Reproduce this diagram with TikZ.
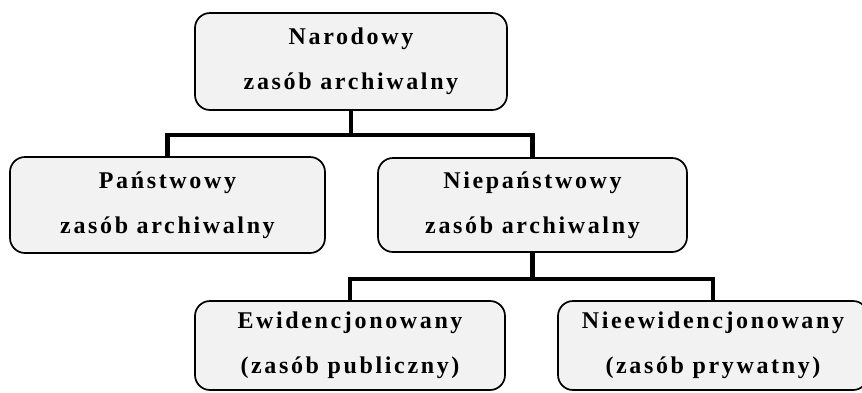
\documentclass[tikz,border=0pt]{standalone}
\usepackage{fontspec}
\setmainfont{Liberation Serif}[LetterSpace=11]
\begin{document}
\begin{tikzpicture}[x=1pt,y=-1pt,
  box/.style={draw=black, line width=1.7pt, rounded corners=15pt, fill=black!5,
    align=center, inner sep=0pt, font=\bfseries\fontsize{24}{45}\selectfont},
  conn/.style={draw=black, line width=4.2pt, line cap=butt, line join=miter}]
\useasboundingbox (0,0) rectangle (862,392);
\clip (0,0) rectangle (862,392);

% tree of archival holdings
\node[box, minimum width=312pt, minimum height=97pt] (nar) at (351,61.5)
  {Narodowy\\zasób archiwalny};
\node[box, minimum width=315pt, minimum height=96pt] (pan) at (167.5,205)
  {Państwowy\\zasób archiwalny};
\node[box, minimum width=309pt, minimum height=94pt] (niep) at (532.5,205)
  {Niepaństwowy\\zasób archiwalny};
\node[box, minimum width=310pt, minimum height=89pt] (ewid) at (350,345.5)
  {Ewidencjonowany\\(zasób publiczny)};
\node[box, minimum width=310pt, minimum height=89pt] (niee) at (713,345.5)
  {Nieewidencjonowany\\(zasób prywatny)};

% branches
\draw[conn] (nar.south) -- ++(0,24) coordinate (j1);
\draw[conn] (pan.north) |- (j1) -| (niep.north);
\draw[conn] (niep.south) -- ++(0,26) coordinate (j2);
\draw[conn] (ewid.north) |- (j2) -| (niee.north);
\end{tikzpicture}
\end{document}
